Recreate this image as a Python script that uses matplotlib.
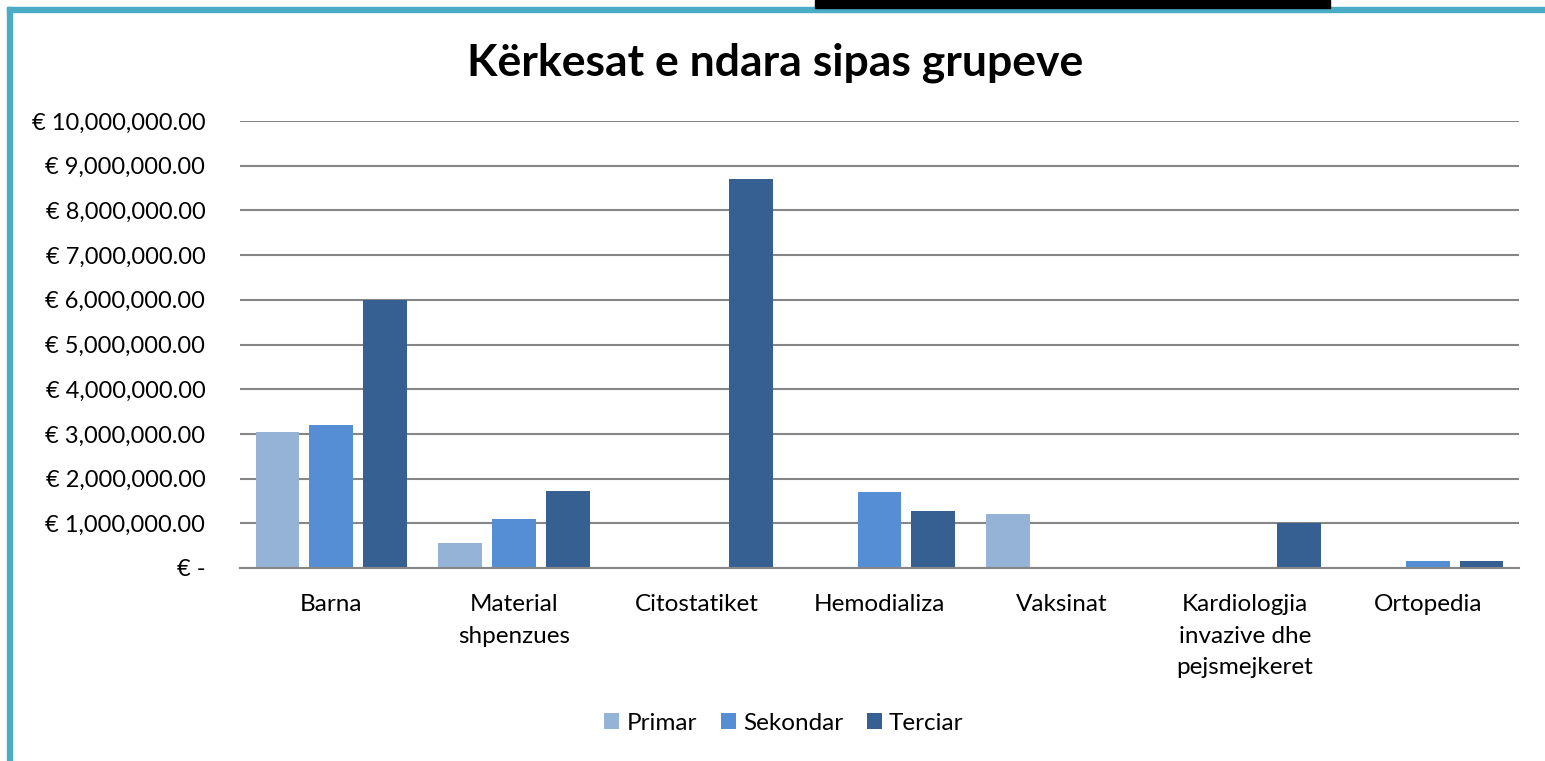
import numpy as np
import matplotlib
matplotlib.use("Agg")
import matplotlib.pyplot as plt
from matplotlib.patches import Rectangle
from matplotlib.ticker import FuncFormatter

plt.rcParams['font.family'] = ['Lato', 'DejaVu Sans']

categories = ["Barna", "Material\nshpenzues", "Citostatiket", "Hemodializa",
              "Vaksinat", "Kardiologjia\ninvazive dhe\npejsmejkeret", "Ortopedia"]
series = ["Primar", "Sekondar", "Terciar"]
primar = [3040000, 560000, 0, 0, 1210000, 0, 0]
sekondar = [3200000, 1100000, 0, 1700000, 0, 0, 160000]
terciar = [6000000, 1720000, 8700000, 1280000, 0, 1000000, 160000]
colors = ["#95B3D7", "#558ED5", "#376092"]

fig = plt.figure(figsize=(15.45, 7.61), dpi=100)
ax = fig.add_axes([240/1545, 1-568/761, (1519-240)/1545, (568-121)/761])

x = np.arange(len(categories))
w = 0.24
off = 0.295
for i, (vals, c, name) in enumerate(zip([primar, sekondar, terciar], colors, series)):
    ax.bar(x + (i-1)*off, vals, width=w, color=c, label=name, zorder=3)

ax.set_xlim(-0.5, len(categories)-0.5)
ax.set_ylim(0, 10000000)
ax.set_yticks(np.arange(0, 10000001, 1000000))

def fmt(v, p):
    if v == 0:
        return "€ -"
    return "€ {:,.2f}".format(v)
ax.yaxis.set_major_formatter(FuncFormatter(fmt))
ax.grid(axis='y', color='#868686', linewidth=1.5, zorder=0)
for s in ['top', 'right', 'left']:
    ax.spines[s].set_visible(False)
ax.spines['bottom'].set_color('#868686')
ax.spines['bottom'].set_linewidth(1.5)
ax.spines['bottom'].set_zorder(4)
ax.tick_params(axis='y', length=0, labelsize=17, colors='black', pad=25)
ax.tick_params(axis='x', length=0, labelsize=17.5, colors='black', pad=19)
ax.set_xticks(x)
ax.set_xticklabels(categories, va='top', linespacing=1.6)

fig.text(775/1545, 1-63/761, "Kërkesat e ndara sipas grupeve", ha='center', va='center',
         fontsize=32, fontweight='bold')

fig.legend(loc='center', bbox_to_anchor=(784/1545, 1-723/761), ncol=3, frameon=False,
           fontsize=17.5, handlelength=0.6, handleheight=0.6, handletextpad=0.3,
           columnspacing=1.0)

# frame pieces from the screenshot
fig.patches.append(Rectangle((7/1545, 0), 5/1545, 1-7/761, transform=fig.transFigure,
                             color='#4BACC6', zorder=5))
fig.patches.append(Rectangle((7/1545, 1-12/761), 1, 5/761, transform=fig.transFigure,
                             color='#4BACC6', zorder=5))
fig.patches.append(Rectangle((815/1545, 1-8/761), (1330-815)/1545, 8/761,
                             transform=fig.transFigure, color='black', zorder=6))

fig.savefig("out.png", dpi=100)
